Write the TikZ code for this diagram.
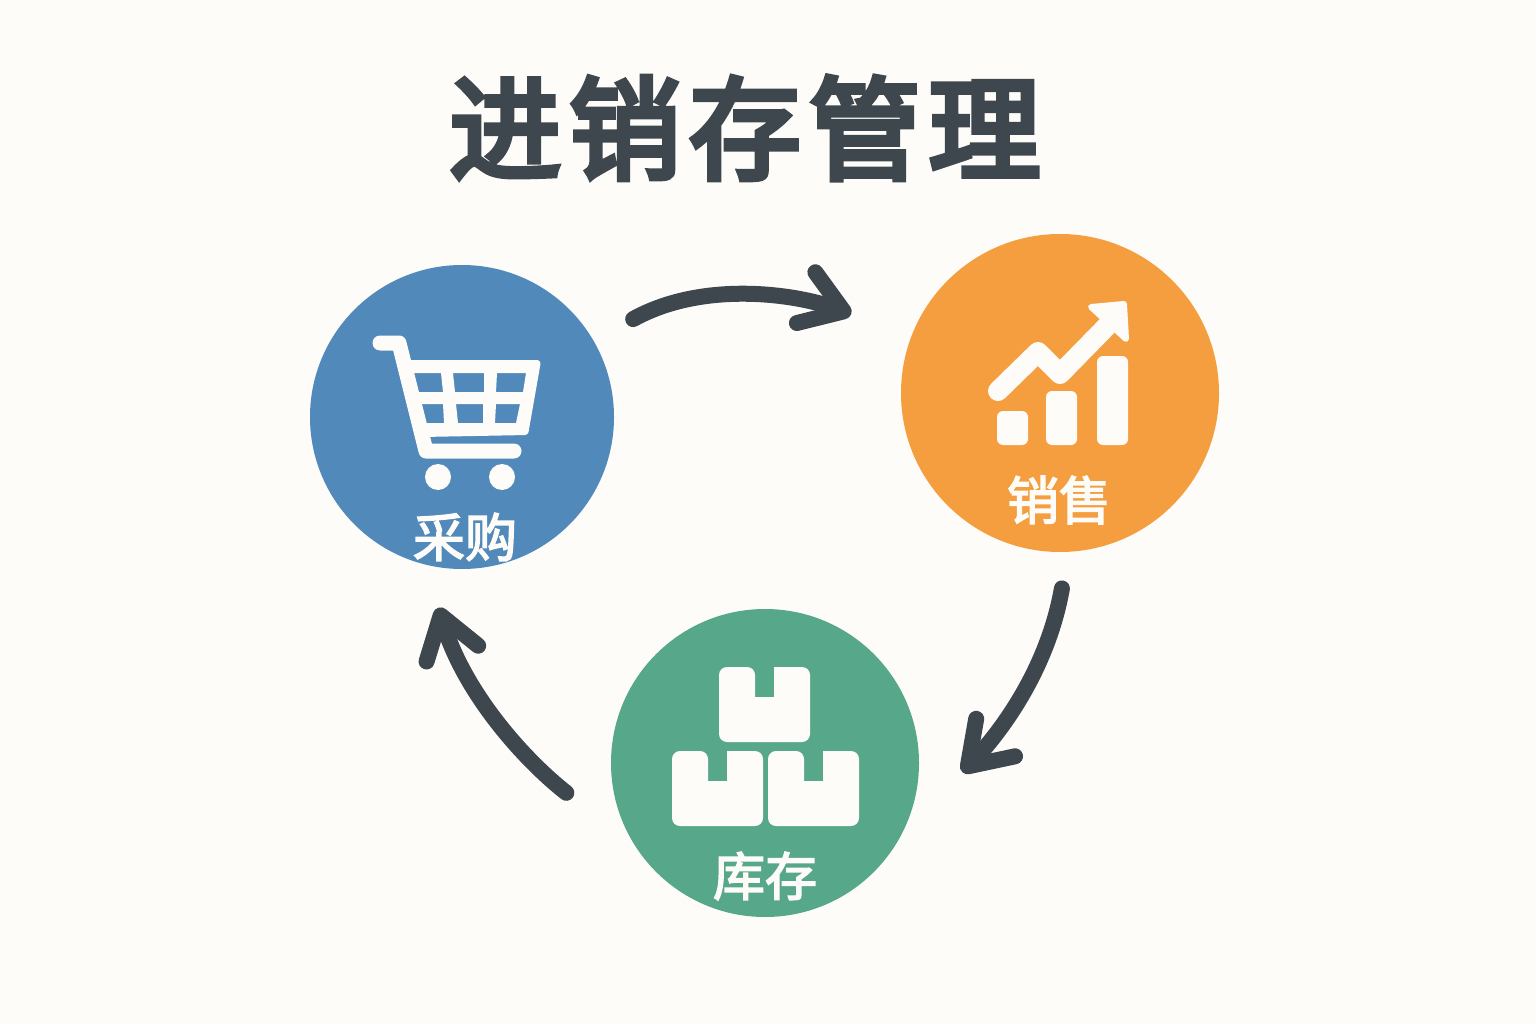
\documentclass[tikz,border=0pt]{standalone}
\usepackage{fontspec}
\usetikzlibrary{arrows.meta}
\newfontfamily\cjk[FakeBold=3]{Noto Sans CJK SC}
\newfontfamily\cjktitle[LetterSpace=7,FakeBold=5]{Noto Sans CJK SC}
\definecolor{paper}{HTML}{FDFCF8}
\definecolor{ink}{HTML}{3F474E}
\definecolor{buyblue}{HTML}{5189BA}
\definecolor{saleorange}{HTML}{F49E3F}
\definecolor{stockgreen}{HTML}{57A88B}
\definecolor{icon}{HTML}{FDFCF9}
\begin{document}
\begin{tikzpicture}[
	x=1pt, y=-1pt,
	hub/.style={circle, draw=none, inner sep=0pt},
	caption/.style={text=icon, font=\cjk\fontsize{52}{52}\selectfont, inner sep=0pt},
	flow/.style={draw=ink, line width=16pt, line cap=round, line join=round,
		-{Straight Barb[length=40pt,width=54pt,round]}},
	bar/.style={fill=icon, draw=none, rounded corners=6pt},
	carton/.pic={
		\fill[icon, rounded corners=8pt] (0,0) -- (36,0) [sharp corners] -- (36,30) -- (55,30) -- (55,0) [rounded corners=8pt] -- (91,0) -- (91,75) -- (0,75) -- cycle;
	}
]
\fill[paper] (0,0) rectangle (1536,1024);
\node[text=ink, font=\cjktitle\fontsize{112}{112}\selectfont, inner sep=0pt] (title) at (745,128) {进销存管理};

\node[hub, fill=buyblue, minimum size=304pt] (buy) at (462,417) {};
\node[hub, fill=saleorange, minimum size=318pt] (sale) at (1060,393) {};
\node[hub, fill=stockgreen, minimum size=308pt] (stock) at (765,763) {};

% cart
\draw[icon, line width=15pt, line cap=round, line join=round] (380,343) -- (399,343) -- (426,451) -- (514,451);
\fill[icon, even odd rule]
	(406,360) -- (537,360) [rounded corners=3pt] -- (541,361) -- (528,435) [sharp corners] -- (422,437) -- cycle
	(413,373) -- (441,373) -- (443,392) -- (417,392) -- cycle
	(453,373) -- (484,373) -- (484,392) -- (455,392) -- cycle
	(497,373) -- (526,373) -- (523,392) -- (496,392) -- cycle
	(421,404) -- (443,404) -- (444,423) -- (425,423) -- cycle
	(456,404) -- (483,404) -- (483,423) -- (458,423) -- cycle
	(496,404) -- (520,404) -- (516,423) -- (495,423) -- cycle;
\fill[icon] (438,477) circle (13);
\fill[icon] (502,477) circle (13);

% chart
\path[bar] (997,411) rectangle (1028,445);
\path[bar] (1046,391) rectangle (1077,445);
\path[bar] (1097,356) rectangle (1128,445);
\draw[icon, line width=20pt, line cap=round, line join=round] (998,391) -- (1038,352) -- (1060,374) -- (1108,325);
\fill[icon, draw=icon, line width=6pt, line join=round] (1091,307) -- (1124,304) -- (1126,339) -- cycle;

% boxes
\pic at (719,667) {carton};
\pic at (672,751) {carton};
\pic at (768,751) {carton};

\node[caption] (buylabel) at (465,537) {采购};
\node[caption] (salelabel) at (1059,500) {销售};
\node[caption] (stocklabel) at (765,876) {库存};

\draw[flow, shorten <=45pt, shorten >=64pt] (buy.30) to[out=29, in=160] (sale.159);
\draw[flow, shorten <=37pt, shorten >=88pt] (sale.-87) to[out=-100, in=46] (stock.-28);
\draw[flow, shorten <=88pt, shorten >=45pt] (stock.213) to[out=142, in=-73] (buy.256);
\end{tikzpicture}
\end{document}
